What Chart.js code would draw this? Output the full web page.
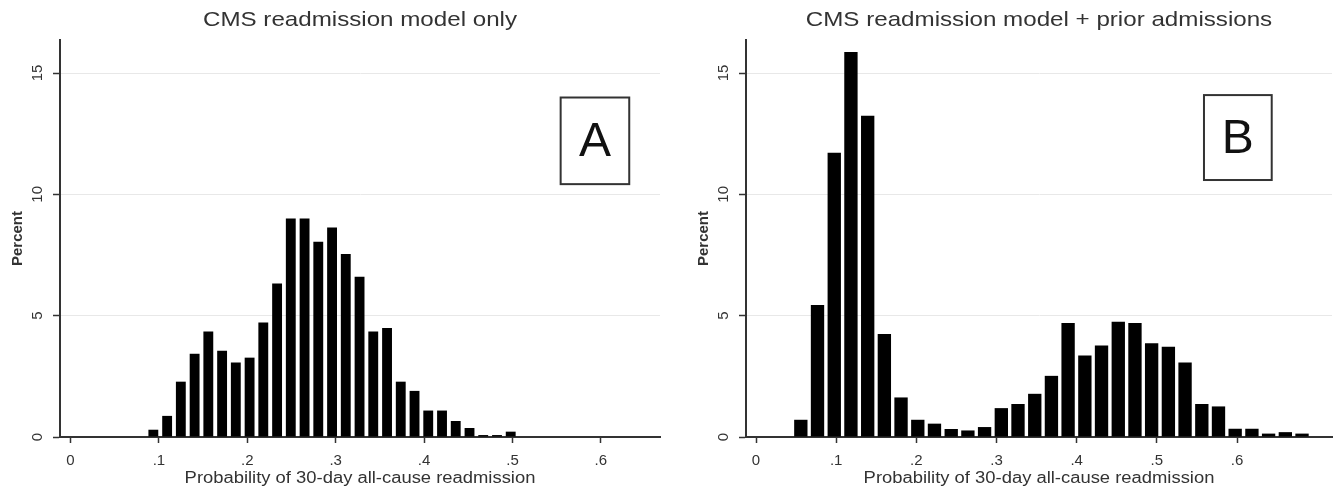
<!DOCTYPE html>
<html>
<head>
<meta charset="utf-8">
<title>Probability of 30-day all-cause readmission</title>
<script src="https://cdn.jsdelivr.net/npm/chart.js"></script>
<style>
  html, body { margin: 0; padding: 0; background: #fff; }
  #wrap { position: relative; width: 1342px; height: 493px; }
  .panel { position: absolute; top: 0; width: 671px; height: 493px; }
</style>
</head>
<body>
<div id="wrap">
  <div class="panel" style="left:0"><canvas id="chartA"></canvas></div>
  <div class="panel" style="left:671px"><canvas id="chartB"></canvas></div>
</div>
<script>
// Panel A: CMS readmission model only (bin centre, percent)
const binsA = [0.0937, 0.1093, 0.1248, 0.1404, 0.1559, 0.1715, 0.1870, 0.2026, 0.2181,
  0.2337, 0.2492, 0.2648, 0.2803, 0.2959, 0.3114, 0.3270, 0.3425, 0.3581, 0.3736,
  0.3892, 0.4047, 0.4203, 0.4358, 0.4514, 0.4669, 0.4825, 0.4980];
const percentA = [0.30, 0.87, 2.28, 3.43, 4.35, 3.55, 3.07, 3.27, 4.72,
  6.33, 9.00, 9.00, 8.05, 8.63, 7.54, 6.60, 4.35, 4.49, 2.28,
  1.90, 1.09, 1.09, 0.66, 0.37, 0.08, 0.08, 0.22];

// Panel B: CMS readmission model + prior admissions
const binsB = [0.0559, 0.0767, 0.0976, 0.1184, 0.1393, 0.1601, 0.1809, 0.2018, 0.2226,
  0.2435, 0.2643, 0.2851, 0.3060, 0.3268, 0.3477, 0.3685, 0.3893, 0.4102, 0.4310,
  0.4519, 0.4727, 0.4935, 0.5144, 0.5352, 0.5561, 0.5769, 0.5977, 0.6186, 0.6394,
  0.6603, 0.6811];
const percentB = [0.71, 5.44, 11.71, 15.87, 13.24, 4.24, 1.63, 0.71, 0.55,
  0.33, 0.27, 0.41, 1.19, 1.36, 1.78, 2.52, 4.70, 3.36, 3.77,
  4.75, 4.70, 3.86, 3.72, 3.07, 1.36, 1.26, 0.34, 0.34, 0.14,
  0.20, 0.14];

const xTicks = [0, 0.1, 0.2, 0.3, 0.4, 0.5, 0.6];
const yTicks = [0, 5, 10, 15];

Chart.defaults.font.family = "'Liberation Sans', Arial, sans-serif";
Chart.defaults.color = '#333';

// titles, x title, rotated y labels and the A/B label box
const panelDecor = {
  id: 'panelDecor',
  afterDraw(chart, args, opts) {
    const { ctx, chartArea, scales: { x, y } } = chart;
    const cx = (chartArea.left + chartArea.right) / 2;
    const stretched = (text, px, py, font) => {
      ctx.save();
      ctx.translate(px, py);
      ctx.scale(1.15, 1);
      ctx.font = font;
      ctx.textAlign = 'center';
      ctx.textBaseline = 'alphabetic';
      ctx.fillText(text, 0, 0);
      ctx.restore();
    };
    ctx.save();
    ctx.fillStyle = '#333';
    stretched(opts.title, cx, 26, "21px 'Liberation Sans', Arial, sans-serif");
    stretched('Probability of 30-day all-cause readmission', cx, 483,
      "16px 'Liberation Sans', Arial, sans-serif");

    ctx.font = "15px 'Liberation Sans', Arial, sans-serif";
    ctx.textAlign = 'center';
    ctx.textBaseline = 'middle';
    yTicks.forEach(v => {
      ctx.save();
      ctx.translate(y.left + y.width - 22, y.getPixelForValue(v));
      ctx.rotate(-Math.PI / 2);
      ctx.fillText(String(v), 0, 0);
      ctx.restore();
    });

    const b = opts.box;
    const x0 = x.getPixelForValue(b.x0), x1 = x.getPixelForValue(b.x1);
    const y0 = y.getPixelForValue(b.y0), y1 = y.getPixelForValue(b.y1);
    ctx.fillStyle = '#fff';
    ctx.fillRect(x0, y0, x1 - x0, y1 - y0);
    ctx.strokeStyle = '#333';
    ctx.lineWidth = 2;
    ctx.strokeRect(x0, y0, x1 - x0, y1 - y0);
    ctx.fillStyle = '#111';
    ctx.font = "48px 'Liberation Sans', Arial, sans-serif";
    ctx.fillText(b.label, (x0 + x1) / 2, (y0 + y1) / 2 + 2);
    ctx.restore();
  }
};

function makeChart(id, bins, values, o) {
  return new Chart(document.getElementById(id), {
    type: 'bar',
    data: {
      datasets: [{
        data: bins.map((b, i) => ({ x: b, y: values[i] })),
        backgroundColor: '#000',
        borderWidth: 0,
        barPercentage: o.barPct,
        categoryPercentage: 1
      }]
    },
    options: {
      responsive: true,
      maintainAspectRatio: false,
      animation: false,
      layout: { padding: { top: 40, right: o.padRight, left: o.padLeft, bottom: 0 } },
      plugins: {
        legend: { display: false },
        tooltip: { enabled: false },
        panelDecor: { title: o.title, box: o.box }
      },
      scales: {
        x: {
          type: 'linear',
          min: o.xMin,
          max: o.xMax,
          offset: false,
          afterBuildTicks: s => { s.ticks = xTicks.map(v => ({ value: v })); },
          afterFit: s => { s.height = 56; },
          ticks: {
            padding: 9,
            font: { size: 15 },
            color: '#333',
            callback: v => (v === 0 ? '0' : v.toFixed(1).replace(/^0/, ''))
          },
          grid: { offset: false, drawOnChartArea: false, tickLength: 6, tickColor: '#333', tickWidth: 1.5 },
          border: { display: true, color: '#333', width: 2 }
        },
        y: {
          min: 0,
          max: 16.36,
          afterBuildTicks: s => { s.ticks = yTicks.map(v => ({ value: v })); },
          afterFit: s => { s.width = 60; },
          ticks: { display: false },
          title: {
            display: true,
            text: 'Percent',
            font: { size: 15, weight: 'bold' },
            color: '#333',
            padding: { top: 9, bottom: 0 }
          },
          grid: {
            color: c => (c.tick && c.tick.value === 0 ? 'rgba(0,0,0,0)' : '#e8e8e8'),
            tickColor: '#333',
            tickLength: 7,
            tickWidth: 1.5
          },
          border: { display: true, color: '#333', width: 2 }
        }
      }
    },
    plugins: [panelDecor]
  });
}

makeChart('chartA', binsA, percentA, {
  title: 'CMS readmission model only',
  barPct: 0.72, padLeft: 0, padRight: 11,
  xMin: -0.0119, xMax: 0.6669,
  box: { x0: 0.5545, x1: 0.6321, y0: 13.99, y1: 10.42, label: 'A' }
});

makeChart('chartB', binsB, percentB, {
  title: 'CMS readmission model + prior admissions',
  barPct: 0.8, padLeft: 15, padRight: 10,
  xMin: -0.0125, xMax: 0.7185,
  box: { x0: 0.5588, x1: 0.6433, y0: 14.09, y1: 10.59, label: 'B' }
});
</script>
</body>
</html>
